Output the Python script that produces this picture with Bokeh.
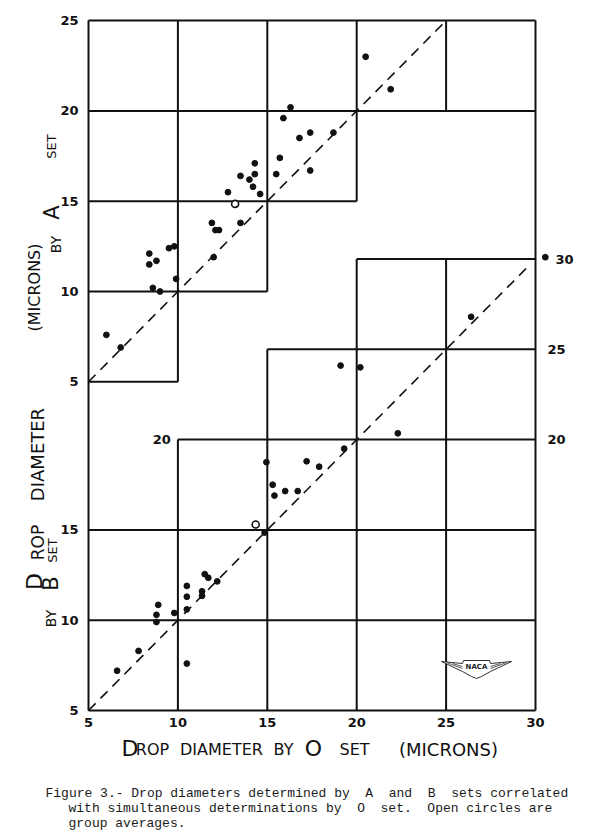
import math
from bokeh.plotting import figure
from bokeh.models import Range1d, ColumnDataSource, Label
from bokeh.core.properties import value
from bokeh.embed import file_html
from bokeh.resources import INLINE

# ---------------- data ----------------
X_TICKS = [5, 10, 15, 20, 25, 30]
A_TICKS = [5, 10, 15, 20, 25]
B_TICKS_LEFT = [5, 10, 15]
B_TICKS_RIGHT = [20, 25, 30]
B_TICK_INNER = [20]

# A set vs O set (microns)
A_O = [6.0, 6.8, 8.4, 8.4, 8.8, 9.5, 9.8, 9.9, 8.6, 9.0, 12.0, 11.9, 12.1, 12.3,
       13.5, 12.8, 13.5, 14.0, 14.3, 14.3, 14.2, 14.6, 15.5, 15.7, 15.9, 16.3,
       16.8, 17.4, 17.4, 18.7, 20.5, 21.9]
A_SET = [7.6, 6.9, 12.1, 11.5, 11.7, 12.4, 12.5, 10.7, 10.2, 10.0, 11.9, 13.8, 13.4, 13.4,
         13.8, 15.5, 16.4, 16.2, 16.5, 17.1, 15.8, 15.4, 16.5, 17.4, 19.6, 20.2,
         18.5, 18.8, 16.7, 18.8, 23.0, 21.2]
A_AVG_O = [13.2]
A_AVG = [14.85]

# B set vs O set (microns)
B_O = [6.6, 7.8, 8.8, 8.8, 8.9, 9.8, 10.5, 10.5, 10.5, 10.5, 11.35, 11.35, 11.5, 11.7,
       12.2, 14.85, 14.95, 15.3, 15.4, 16.0, 16.7, 17.2, 17.9, 19.3, 19.1, 20.2,
       22.3, 26.4, 30.55]
B_SET = [7.2, 8.3, 9.9, 10.3, 10.85, 10.4, 7.6, 10.6, 11.3, 11.9, 11.35, 11.6, 12.55, 12.35,
         12.15, 14.85, 18.75, 17.5, 16.9, 17.15, 17.15, 18.8, 18.5, 19.5, 24.1, 24.0,
         20.35, 26.8, 30.1]
B_AVG_O = [14.35]
B_AVG = [15.3]

# grid structure: (level, from, to)
A_H = [(5, 5, 10), (10, 5, 15), (15, 5, 20), (20, 5, 30), (25, 5, 30)]
A_V = [(10, 5, 25), (15, 10, 25), (20, 15, 25), (25, 20, 25)]
B_H = [(5, 5, 30), (10, 5, 30), (15, 5, 30), (20, 10, 30), (25, 15, 30), (30, 20, 30)]
B_V = [(10, 5, 20), (15, 5, 25), (20, 5, 30), (25, 5, 30)]
BORDER_X = [5, 30]
A_DIAG = [5, 25]
B_DIAG = [5, 29.6]

CAPTION = [
    "Figure 3.- Drop diameters determined by  A  and  B  sets correlated",
    "with simultaneous determinations by  O  set.  Open circles are",
    "group averages.",
]

# ---------------- layout ----------------
W, H = 593, 839
X_ORIGIN_PX = 88.0      # where x = 5 sits
Y_ORIGIN_PX = 710.0     # where B = 5 sits
PXX = 17.88             # px per micron, horizontal
PXY = 18.06             # px per micron, vertical
OFFSET = 18.2           # vertical shift of the A scale against the B scale

X0 = X_TICKS[0] - X_ORIGIN_PX / PXX
X1 = X0 + W / PXX
Y0 = B_TICKS_LEFT[0] - (H - Y_ORIGIN_PX) / PXY
Y1 = Y0 + H / PXY


def px2x(px):
    return X_TICKS[0] + (px - X_ORIGIN_PX) / PXX


def py2y(py):
    return B_TICKS_LEFT[0] + (Y_ORIGIN_PX - py) / PXY


INK = "#111111"

p = figure(width=W, height=H, output_backend="svg", toolbar_location=None,
           x_range=Range1d(X0, X1), y_range=Range1d(Y0, Y1),
           x_axis_location=None, y_axis_location=None,
           min_border=0, min_border_left=0, min_border_right=0,
           min_border_top=0, min_border_bottom=0)
p.extra_y_ranges = {"A": Range1d(Y0 - OFFSET, Y1 - OFFSET)}
p.outline_line_color = None
p.xgrid.visible = False
p.ygrid.visible = False
p.background_fill_color = "white"
p.border_fill_color = "white"


# grid segments
def seg_h(rows):
    return dict(x0=[r[1] for r in rows], x1=[r[2] for r in rows],
                y0=[r[0] for r in rows], y1=[r[0] for r in rows])


def seg_v(rows):
    return dict(x0=[r[0] for r in rows], x1=[r[0] for r in rows],
                y0=[r[1] for r in rows], y1=[r[2] for r in rows])


LW = 2.0
p.segment(x0="x0", y0="y0", x1="x1", y1="y1", source=ColumnDataSource(seg_h(A_H)),
          y_range_name="A", line_color=INK, line_width=LW)
p.segment(x0="x0", y0="y0", x1="x1", y1="y1", source=ColumnDataSource(seg_v(A_V)),
          y_range_name="A", line_color=INK, line_width=LW)
p.segment(x0="x0", y0="y0", x1="x1", y1="y1", source=ColumnDataSource(seg_h(B_H)),
          line_color=INK, line_width=LW)
p.segment(x0="x0", y0="y0", x1="x1", y1="y1", source=ColumnDataSource(seg_v(B_V)),
          line_color=INK, line_width=LW)
p.segment(x0=BORDER_X, x1=BORDER_X, y0=[B_TICKS_LEFT[0]] * len(BORDER_X),
          y1=[A_TICKS[-1] + OFFSET] * len(BORDER_X), line_color=INK, line_width=LW)

# diagonals
p.line(A_DIAG, A_DIAG, y_range_name="A", line_color=INK, line_width=1.6, line_dash="10 7")
p.line(B_DIAG, B_DIAG, line_color=INK, line_width=1.6, line_dash="10 7")

# NACA logo (decorative)
cx, cy = 476, 667
wing = [(-35, -6), (-14, -4), (-13, -7), (13, -7), (14, -4), (35, -6), (14, 4),
        (5, 9), (0, 11), (-5, 9), (-14, 4)]
p.patch([px2x(cx + dx) for dx, dy in wing], [py2y(cy + dy) for dx, dy in wing],
        fill_color="white", line_color="#333", line_width=1)
feathers = [[(-30, -5), (-14, 1)], [(-24, -4), (-14, -1)], [(30, -5), (14, 1)], [(24, -4), (14, -1)]]
p.multi_line([[px2x(cx + a[0]), px2x(cx + b[0])] for a, b in feathers],
             [[py2y(cy + a[1]), py2y(cy + b[1])] for a, b in feathers],
             line_color="#333", line_width=0.8)
p.add_layout(Label(x=px2x(cx), y=py2y(cy - 1), text="NACA", text_align="center",
                   text_baseline="middle", text_font="DejaVu Sans", text_font_style="bold",
                   text_font_size="7px", text_color="#222"))

# points
p.scatter(A_O, A_SET, y_range_name="A", size=5.8, color=INK)
p.scatter(B_O, B_SET, size=5.8, color=INK)
p.scatter(A_AVG_O, A_AVG, y_range_name="A", size=7, fill_color="white",
          line_color=INK, line_width=1.6)
p.scatter(B_AVG_O, B_AVG, size=7, fill_color="white", line_color=INK, line_width=1.6)

# ---------------- tick labels ----------------
TICK_FONT = value("DejaVu Sans")
TICK_SIZE = "13px"
TICK_STYLE = "bold"
xsrc = ColumnDataSource(dict(x=X_TICKS, y=[B_TICKS_LEFT[0]] * len(X_TICKS),
                             text=[str(v) for v in X_TICKS]))
p.text(x="x", y="y", text="text", y_offset=7, source=xsrc, text_align="center",
       text_baseline="top", text_font=TICK_FONT, text_font_size=TICK_SIZE,
       text_font_style=TICK_STYLE, text_color=INK)
bsrc = ColumnDataSource(dict(x=[X_TICKS[0]] * len(B_TICKS_LEFT), y=B_TICKS_LEFT,
                             text=[str(v) for v in B_TICKS_LEFT]))
p.text(x="x", y="y", text="text", x_offset=-10, source=bsrc, text_align="right",
       text_baseline="middle", text_font=TICK_FONT, text_font_size=TICK_SIZE,
       text_font_style=TICK_STYLE, text_color=INK)
asrc = ColumnDataSource(dict(x=[X_TICKS[0]] * len(A_TICKS), y=A_TICKS,
                             text=[str(v) for v in A_TICKS]))
p.text(x="x", y="y", text="text", x_offset=-10, source=asrc, y_range_name="A",
       text_align="right", text_baseline="middle", text_font=TICK_FONT,
       text_font_size=TICK_SIZE, text_font_style=TICK_STYLE, text_color=INK)
rsrc = ColumnDataSource(dict(x=[X_TICKS[-1]] * len(B_TICKS_RIGHT), y=B_TICKS_RIGHT,
                             text=[str(v) for v in B_TICKS_RIGHT],
                             dx=[12 if v != B_TICKS_RIGHT[-1] else 20 for v in B_TICKS_RIGHT]))
p.text(x="x", y="y", text="text", x_offset="dx", source=rsrc, text_align="left",
       text_baseline="middle", text_font=TICK_FONT, text_font_size=TICK_SIZE,
       text_font_style=TICK_STYLE, text_color=INK)
isrc = ColumnDataSource(dict(x=[10] * len(B_TICK_INNER), y=B_TICK_INNER,
                             text=[str(v) for v in B_TICK_INNER]))
p.text(x="x", y="y", text="text", x_offset=-7, source=isrc, text_align="right",
       text_baseline="middle", text_font=TICK_FONT, text_font_size=TICK_SIZE,
       text_font_style=TICK_STYLE, text_color=INK)


# ---------------- axis titles (lettering) ----------------
def lab(text, px, py, size, angle=0.0, align="center"):
    p.add_layout(Label(x=px2x(px), y=py2y(py), text=text, angle=angle,
                       text_align=align, text_baseline="middle",
                       text_font="DejaVu Sans", text_font_size=size, text_color=INK))


BIG, SM = "22px", "16px"
# x title (horizontal): centre x, centre y
lab("D", 121, 748, BIG, align="left")
lab("ROP", 152, 749, SM)
lab("DIAMETER", 221, 749, SM)
lab("BY", 283, 749, SM)
lab("O", 313, 748, BIG)
lab("SET", 354, 749, SM)
lab("(MICRONS)", 448, 749, "18px")

R = math.pi / 2
# y title, main column: centre x, centre y
lab("D", 34, 581, BIG, R)
lab("ROP", 37, 542, "17px", R)
lab("DIAMETER", 37, 454, "18px", R)
lab("(MICRONS)", 34, 287, "16px", R)
# B set
lab("BY", 50, 618, "14px", R)
lab("B", 50, 583, "21px", R)
lab("SET", 52, 550, "13px", R)
# A set
lab("BY", 55, 244, "14px", R)
lab("A", 51, 212, "21px", R)
lab("SET", 51, 146, "13px", R)

# caption (double spaces kept visible with a no-break space)
for i, line in enumerate(CAPTION):
    p.add_layout(Label(x=px2x(45 if i == 0 else 68), y=py2y(793 + 15 * i),
                       text=line.replace("  ", "\u00a0 "),
                       text_align="left", text_baseline="middle",
                       text_font="Liberation Mono", text_font_size="13px",
                       text_color="#1a1a1a"))

open("out.html", "w").write(file_html(p, INLINE))
